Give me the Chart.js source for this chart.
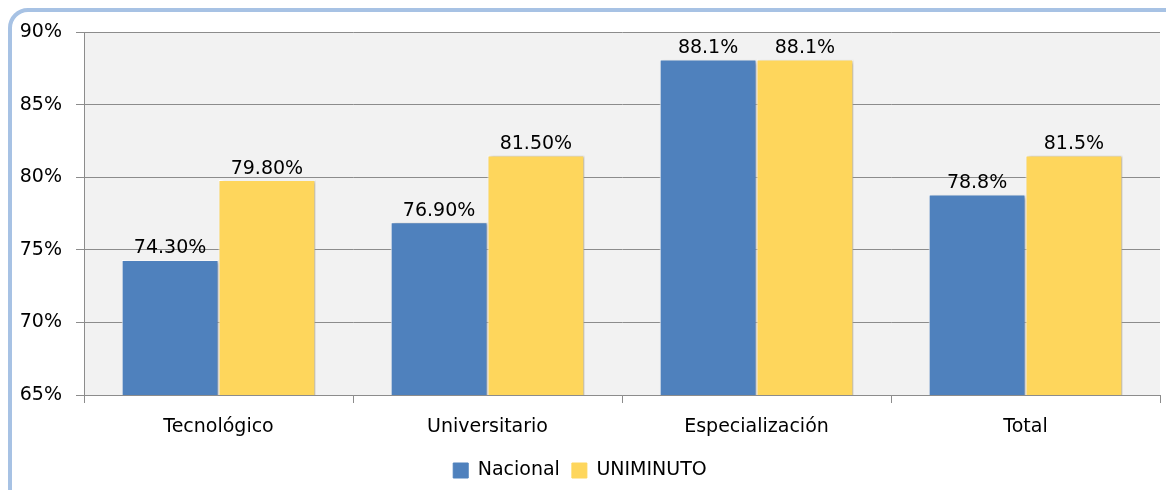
<!DOCTYPE html>
<html>
<head>
<meta charset="utf-8">
<script src="https://cdn.jsdelivr.net/npm/chart.js@4.4.0/dist/chart.umd.min.js"></script>
<style>
  body { margin: 0; background: #fff; overflow: hidden; }
  #wrap { position: relative; width: 1166px; height: 490px; }
  #frame {
    position: absolute; left: 8px; top: 8px; width: 1200px; height: 520px;
    border: 4px solid #a7c2e4; border-radius: 20px; pointer-events: none;
  }
</style>
</head>
<body>
<div id="wrap">
  <canvas id="salesChart" width="1166" height="490"></canvas>
  <div id="frame"></div>
</div>
<script>
const categories = ['Tecnológico', 'Universitario', 'Especialización', 'Total'];
const nacional = [74.3, 76.9, 88.1, 78.8];
const uniminuto = [79.8, 81.5, 88.1, 81.5];
const nacionalLabels = ['74.30%', '76.90%', '88.1%', '78.8%'];
const uniminutoLabels = ['79.80%', '81.50%', '88.1%', '81.5%'];
const yTicks = [65, 70, 75, 80, 85, 90];

const FONT = '"DejaVu Sans", sans-serif';

// grey plot background
const plotBg = {
  id: 'plotBg',
  beforeDraw(chart) {
    const { ctx, chartArea: a } = chart;
    ctx.save();
    ctx.fillStyle = '#f2f2f2';
    ctx.fillRect(a.left, a.top, a.right - a.left, a.bottom - a.top);
    ctx.restore();
  }
};

// little drop shadow on the bars
const barShadow = {
  id: 'barShadow',
  beforeDatasetsDraw(chart) {
    const ctx = chart.ctx;
    ctx.save();
    ctx.shadowColor = 'rgba(0,0,0,0.35)';
    ctx.shadowOffsetX = 2;
    ctx.shadowOffsetY = 1;
    ctx.shadowBlur = 3;
  },
  afterDatasetsDraw(chart) {
    chart.ctx.restore();
  }
};

// value labels above bars
const valueLabels = {
  id: 'valueLabels',
  afterDatasetsDraw(chart) {
    const ctx = chart.ctx;
    const texts = [nacionalLabels, uniminutoLabels];
    ctx.save();
    ctx.font = '19px ' + FONT;
    ctx.fillStyle = '#000';
    ctx.textAlign = 'center';
    ctx.textBaseline = 'bottom';
    chart.data.datasets.forEach((ds, i) => {
      chart.getDatasetMeta(i).data.forEach((bar, j) => {
        ctx.fillText(texts[i][j], bar.x, bar.y - 2);
      });
    });
    ctx.restore();
  }
};

const ctx = document.getElementById('salesChart').getContext('2d');
new Chart(ctx, {
  type: 'bar',
  data: {
    labels: categories,
    datasets: [
      {
        label: 'Nacional',
        data: nacional,
        backgroundColor: '#4f81bd',
        borderColor: '#ffffff',
        borderWidth: 1,
      },
      {
        label: 'UNIMINUTO',
        data: uniminuto,
        backgroundColor: '#fed65c',
        borderColor: '#ffffff',
        borderWidth: 1,
      },
    ],
  },
  options: {
    responsive: false,
    animation: false,
    devicePixelRatio: 1,
    layout: { padding: { left: 0, right: 6, top: 32, bottom: 0 } },
    datasets: { bar: { categoryPercentage: 0.72, barPercentage: 1 } },
    plugins: {
      tooltip: { enabled: false },
      legend: {
        position: 'bottom',
        labels: {
          font: { family: FONT, size: 19 },
          color: '#000',
          boxWidth: 15,
          boxHeight: 15,
          padding: 12,
          generateLabels(chart) {
            return chart.data.datasets.map((ds, i) => ({
              text: ds.label,
              fillStyle: ds.backgroundColor,
              strokeStyle: ds.backgroundColor,
              lineWidth: 1,
              datasetIndex: i,
            }));
          },
        },
      },
    },
    scales: {
      x: {
        grid: { drawOnChartArea: false, drawTicks: true, tickLength: 8, color: '#8c8c8c' },
        border: { color: '#8c8c8c' },
        ticks: { font: { family: FONT, size: 19 }, color: '#000', padding: 13 },
        afterFit(scale) { scale.height = 54; },
      },
      y: {
        min: 65,
        max: 90,
        afterBuildTicks(scale) { scale.ticks = yTicks.map(v => ({ value: v })); },
        grid: { color: '#8c8c8c', tickLength: 8 },
        border: { color: '#8c8c8c' },
        ticks: {
          font: { family: FONT, size: 19 },
          color: '#000',
          padding: 14,
          callback: v => v + '%',
        },
        afterFit(scale) { scale.width = 84; },
      },
    },
  },
  plugins: [plotBg, barShadow, valueLabels],
});
</script>
</body>
</html>
